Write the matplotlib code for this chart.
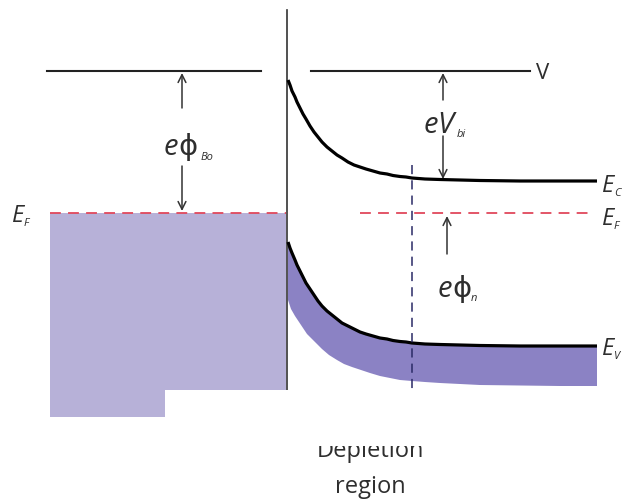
import numpy as np
import matplotlib
matplotlib.use('Agg')
import matplotlib.pyplot as plt
from matplotlib.patches import Rectangle

# band edges (pixel coords, y down)
ec_x = [288, 290, 292, 295, 297, 300, 303, 306, 310, 314, 318, 322, 327, 332, 337, 342, 348, 354, 360, 366, 373, 380, 387, 393, 400, 406, 412, 425, 440, 460, 480, 520, 560, 597]
ec_y = [80, 85, 91, 97, 102, 108, 114, 119, 126, 132, 137, 142, 147, 151, 155, 158, 162, 165, 167, 169, 171, 173, 174, 175.5, 176.5, 177, 178, 179, 179.5, 180, 180.5, 181, 181, 181]

ev_x = [288, 290, 292, 295, 297, 300, 303, 306, 310, 314, 318, 322, 327, 332, 337, 342, 348, 354, 360, 366, 373, 380, 387, 393, 400, 406, 412, 425, 440, 460, 480, 520, 560, 597]
ev_y = [242, 248, 253, 260, 265, 271, 277, 283, 289, 295, 301, 306, 311, 315, 319, 323, 326, 329, 332, 334, 336, 338, 339, 340.5, 341.5, 342, 343, 344, 344.5, 345, 345.5, 346, 346, 346]

low_x = [288, 291, 295, 299, 303, 307, 312, 317, 322, 329, 337, 344, 352, 361, 370, 380, 390, 400, 412, 425, 440, 460, 480, 520, 560, 597]
low_y = [300, 309, 316, 322, 328, 334, 339, 344, 349, 355, 360, 364, 367, 370, 373, 376, 378, 380, 381, 382, 383, 384, 385, 385.5, 386, 386]

metal_x = [50, 286]
metal_top, metal_bot = 213, 417

vac_left = [47, 261]
vac_right = [311, 530]
vac_y = 71
ef_left = [50, 286]
ef_right = [360, 592]
ef_y = 213
junction_x = 287
depl_x = 412

lbl_font = ['Open Sans', 'DejaVu Sans']
ink = '#2e2e2e'

fig = plt.figure(figsize=(6.32, 4.99), dpi=100)
ax = fig.add_axes([0, 0, 1, 1])
ax.set_xlim(0, 632)
ax.set_ylim(499, 0)
ax.axis('off')

# metal (filled up to E_F)
ax.add_patch(Rectangle((metal_x[0], metal_top), metal_x[1] - metal_x[0], metal_bot - metal_top,
                       facecolor='#b7b1d8', edgecolor='none', zorder=1))
# valence band fill
ax.fill(ev_x + low_x[::-1], ev_y + low_y[::-1], color='#8b82c4', lw=0, zorder=1)

ax.plot([junction_x, junction_x], [10, 390], color='#333333', lw=1.2, zorder=3)
ax.plot(vac_left, [vac_y, vac_y], color='#222222', lw=1.5, zorder=3)
ax.plot(vac_right, [vac_y, vac_y], color='#222222', lw=1.5, zorder=3)

ax.plot(ef_left, [ef_y, ef_y], color='#e0485c', lw=1.3, dashes=(6, 4), zorder=4)
ax.plot(ef_right, [ef_y, ef_y], color='#e0485c', lw=1.3, dashes=(6, 4), zorder=4)

ax.plot(ec_x, ec_y, color='black', lw=2.3, solid_capstyle='butt', zorder=5)
ax.plot(ev_x, ev_y, color='black', lw=2.3, solid_capstyle='butt', zorder=5)

ax.plot([depl_x, depl_x], [165, 390], color='#2a2a66', lw=1.1, dashes=(6, 4), zorder=6)

def arrow(x, y0, y1):
    ax.annotate('', xy=(x, y1), xytext=(x, y0),
                arrowprops=dict(arrowstyle='->', color='#333333', lw=1.1,
                                mutation_scale=14, shrinkA=0, shrinkB=0), zorder=6)

arrow(182, 108, 73)
arrow(182, 166, 211)
arrow(443, 100, 73)
arrow(443, 136, 179)
arrow(447, 254, 216)

def sym(x, y, sub, subdx, subdy, big):
    ax.text(x, y, 'e', fontsize=big, style='italic', family=lbl_font, color=ink,
            ha='left', va='baseline')
    ax.text(x + 14, y, '\u03d5', fontsize=big, family=['DejaVu Sans'], color=ink,
            ha='left', va='baseline')
    ax.text(x + subdx, y + subdy, sub, fontsize=8, style='italic', family=lbl_font,
            color=ink, ha='left', va='baseline')

sym(164, 155, 'Bo', 37, 5, 21)
sym(438, 297, 'n', 33, 4, 21)

ax.text(424, 133, 'e', fontsize=21, style='italic', family=lbl_font, color=ink, va='baseline')
ax.text(437, 133, 'V', fontsize=21, style='italic', family=lbl_font, color=ink, va='baseline')
ax.text(457, 137, 'bi', fontsize=8, style='italic', family=lbl_font, color=ink, va='baseline')

ax.text(536, 79, 'V', fontsize=16, family=lbl_font, color=ink, va='baseline')

def elabel(x, y, sub):
    ax.text(x, y, 'E', fontsize=17, style='italic', family=lbl_font, color=ink, va='baseline')
    ax.text(x + 12, y + 4, sub, fontsize=8, style='italic', family=lbl_font, color=ink,
            va='baseline')

elabel(12, 222, 'F')
elabel(602, 192, 'C')
elabel(602, 225, 'F')
elabel(602, 355, 'V')

ax.text(370, 457, 'Depletion', fontsize=17, family=lbl_font, color=ink, ha='center',
        va='baseline', zorder=2)
ax.text(370, 493, 'region', fontsize=17, family=lbl_font, color=ink, ha='center',
        va='baseline', zorder=2)
# white block hiding the lower part of the drawing
ax.add_patch(Rectangle((165, 390), 290, 56, facecolor='white', edgecolor='none', zorder=8))

fig.savefig('out.png', dpi=100)
